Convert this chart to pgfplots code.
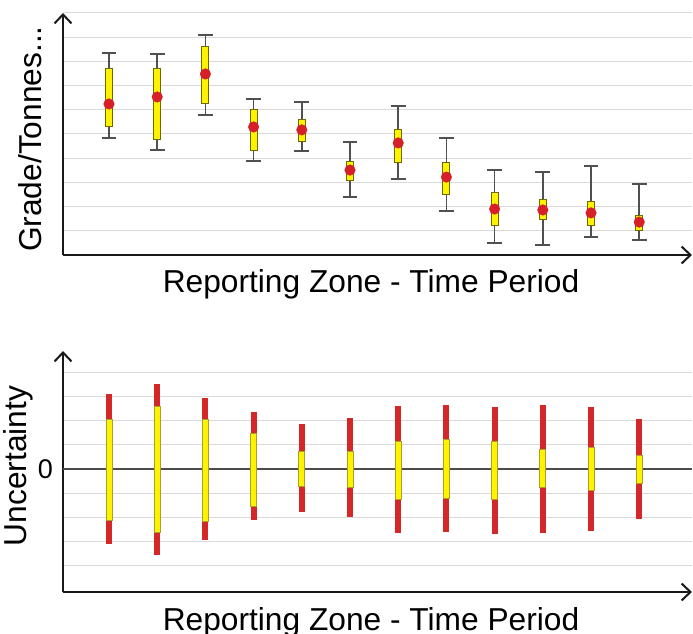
\documentclass[border=0pt]{standalone}
\usepackage{pgfplots}
\pgfplotsset{compat=1.18}
\usepackage{pgfplotstable}
\usepgfplotslibrary{statistics}
\usetikzlibrary{arrows.meta}
\usepackage{fontspec}
\setmainfont{Liberation Sans}

\definecolor{dotred}{RGB}{214,32,39}
\definecolor{barred}{RGB}{212,40,40}
\definecolor{byellow}{RGB}{255,242,0}
\definecolor{boxline}{RGB}{110,105,0}
\definecolor{boxlineb}{RGB}{170,160,40}
\definecolor{whisk}{RGB}{80,80,80}
\definecolor{gridc}{RGB}{218,218,218}

\pgfplotstableread{
x m lq uq lw uw
1 6.24 5.33 7.69 4.83 8.35
2 6.53 4.79 7.69 4.34 8.31
3 7.48 6.24 8.60 5.79 9.09
4 5.29 4.30 6.03 3.88 6.45
5 5.17 4.71 5.58 4.30 6.32
6 3.51 3.06 3.88 2.40 4.67
7 4.63 3.84 5.17 3.14 6.16
8 3.22 2.48 3.84 1.82 4.83
9 1.90 1.20 2.60 0.50 3.51
10 1.86 1.45 2.31 0.41 3.43
11 1.74 1.20 2.19 0.74 3.68
12 1.36 1.03 1.65 0.62 2.93
}\topdata

\pgfplotstableread{
x m lq uq lw uw
1 0 -2.12 2.07 -3.11 3.11
2 0 -2.61 2.61 -3.57 3.53
3 0 -2.16 2.07 -2.95 2.95
4 0 -1.54 1.49 -2.12 2.37
5 0 -0.71 0.75 -1.78 1.87
6 0 -0.75 0.75 -1.99 2.12
7 0 -1.24 1.16 -2.66 2.61
8 0 -1.20 1.24 -2.61 2.66
9 0 -1.24 1.16 -2.70 2.57
10 0 -0.75 0.83 -2.66 2.66
11 0 -0.87 0.91 -2.57 2.57
12 0 -0.58 0.58 -2.07 2.07
}\botdata

% draws box #1 (row index) of table #2 with plot style #3
\newcommand\boxrow[3]{%
  \pgfplotstablegetelem{#1}{x}\of#2\let\vx\pgfplotsretval
  \pgfplotstablegetelem{#1}{m}\of#2\let\vm\pgfplotsretval
  \pgfplotstablegetelem{#1}{lq}\of#2\let\vlq\pgfplotsretval
  \pgfplotstablegetelem{#1}{uq}\of#2\let\vuq\pgfplotsretval
  \pgfplotstablegetelem{#1}{lw}\of#2\let\vlw\pgfplotsretval
  \pgfplotstablegetelem{#1}{uw}\of#2\let\vuw\pgfplotsretval
  \edef\temp{\noexpand\addplot[#3, boxplot prepared={draw direction=y, draw position=\vx,
      lower whisker=\vlw, upper whisker=\vuw,
      lower quartile=\vlq, upper quartile=\vuq, median=\vm}] coordinates {};}%
  \temp
}

\pgfplotsset{
  common/.style={
    scale only axis,
    width=629pt,
    xmin=0.046, xmax=13.095,
    enlargelimits=false,
    axis lines=left,
    axis line style={line width=2pt, black!90, -{Straight Barb[length=9pt,width=17pt,line width=2pt]}},
    xtick=\empty,
    major tick length=0pt,
    tick style={draw=none},
    grid=major,
    major grid style={gridc, line width=1pt},
    yticklabels={},
    every axis x label/.style={at={(axis description cs:0.4897,0)}, anchor=base, yshift=-38pt, font=\fontsize{31.7}{37}\selectfont},
    clip=false,
  }
}

\begin{document}
\begin{tikzpicture}
\begin{axis}[common,
  at={(63pt,379pt)}, anchor=south west,
  height=242pt,
  ymin=0, ymax=10,
  ytick={1,...,10},
  xlabel={Reporting Zone - Time Period},
  ylabel={Grade/Tonnes...},
  every axis y label/.style={at={(axis description cs:-0.0334,0.479)}, rotate=90, anchor=south, inner sep=0pt, font=\fontsize{31.7}{37}\selectfont},
  /pgfplots/boxplot/box extend=0.145,
  /pgfplots/boxplot/whisker extend=0.31,
  /pgfplots/boxplot/every whisker/.style={draw=whisk, line width=1.5pt},
  /pgfplots/boxplot/every median/.style={draw=none},
]
\pgfplotsinvokeforeach{0,...,11}{%
  \boxrow{#1}{\topdata}{fill=byellow, draw=boxline, line width=1pt}%
}
\addplot[only marks, mark=*, mark size=5.3pt, color=dotred] table[x=x, y=m] {\topdata};
\end{axis}

\begin{axis}[common,
  at={(63pt,42pt)}, anchor=south west,
  height=241pt,
  ymin=-5.1, ymax=4.9,
  ytick={-4,-3,-2,-1,1,2,3,4},
  extra y ticks={0},
  extra y tick labels={0},
  extra y tick style={grid=major, major grid style={black!70, line width=1.3pt},
    yticklabel style={font=\fontsize{27}{32}\selectfont, inner sep=0pt, xshift=-10pt}},
  xlabel={Reporting Zone - Time Period},
  ylabel={Uncertainty},
  every axis y label/.style={at={(axis description cs:-0.0470,0.523)}, rotate=90, anchor=south, inner sep=0pt, font=\fontsize{31.7}{37}\selectfont},
  /pgfplots/boxplot/box extend=0.125,
  /pgfplots/boxplot/whisker extend=0,
  /pgfplots/boxplot/every whisker/.style={draw=barred, line width=6pt},
  /pgfplots/boxplot/every median/.style={draw=none},
]
\pgfplotsinvokeforeach{0,...,11}{%
  \boxrow{#1}{\botdata}{fill=byellow, draw=boxlineb, line width=0.7pt}%
}
\end{axis}
\pgfresetboundingbox
\path[use as bounding box] (0,0) rectangle (693pt,634pt);
\end{tikzpicture}
\end{document}
